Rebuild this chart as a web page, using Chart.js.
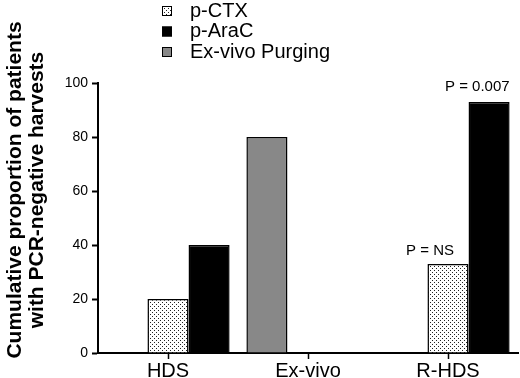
<!DOCTYPE html>
<html>
<head>
<meta charset="utf-8">
<script src="https://cdn.jsdelivr.net/npm/chart.js@4"></script>
<style>
  body { margin: 0; background: #fff; }
</style>
</head>
<body>
<canvas id="purgeChart" width="520" height="378"></canvas>
<script>
const categories = ['HDS', 'Ex-vivo', 'R-HDS'];
const seriesNames = ['p-CTX', 'p-AraC', 'Ex-vivo Purging'];
const pCtxValues = [20, null, 33];
const pAraCValues = [40, null, 93];
const exVivoValues = [null, 80, null];
const yTicks = [0, 20, 40, 60, 80, 100];
const pLabels = [
    { series: 'p-CTX', category: 'R-HDS', text: 'P = NS' },
    { series: 'p-AraC', category: 'R-HDS', text: 'P = 0.007' }
];

const FONT = '"Liberation Sans", Arial, Helvetica, sans-serif';

// stipple fill like the print version
function stipple() {
    const c = document.createElement('canvas');
    c.width = 4; c.height = 4;
    const g = c.getContext('2d');
    g.fillStyle = '#fff';
    g.fillRect(0, 0, 4, 4);
    g.fillStyle = '#222';
    g.fillRect(0, 0, 1, 1);
    g.fillRect(2, 2, 1, 1);
    return g.createPattern(c, 'repeat');
}
const dots = stipple();

const fills = { 'p-CTX': dots, 'p-AraC': '#000000', 'Ex-vivo Purging': '#888888' };

// ex-vivo first so it takes the left slot, like the original
const datasets = [
    { label: 'Ex-vivo Purging', data: exVivoValues },
    { label: 'p-CTX', data: pCtxValues },
    { label: 'p-AraC', data: pAraCValues }
].map(d => Object.assign(d, {
    backgroundColor: fills[d.label],
    borderColor: '#000',
    borderWidth: 1.5,
    barPercentage: 1,
    categoryPercentage: 0.88
}));

const extras = {
    id: 'extras',
    afterDraw(chart) {
        const ctx = chart.ctx;
        ctx.save();

        // legend
        ctx.font = '20px ' + FONT;
        ctx.textBaseline = 'middle';
        ctx.textAlign = 'left';
        seriesNames.forEach((name, i) => {
            const y = 11 + i * 20.5;
            ctx.fillStyle = fills[name];
            ctx.fillRect(162, y - 5, 10, 10);
            ctx.strokeStyle = '#000';
            ctx.lineWidth = 1;
            ctx.strokeRect(162.5, y - 4.5, 9, 9);
            ctx.fillStyle = '#000';
            ctx.fillText(name, 190, y);
        });

        // y axis title, two lines
        ctx.translate(0, 190);
        ctx.rotate(-Math.PI / 2);
        ctx.font = 'bold 21px ' + FONT;
        ctx.textAlign = 'center';
        ctx.fillText('Cumulative proportion of patients', 0, 15);
        ctx.fillText('with PCR-negative harvests', 0, 37);
        ctx.restore();

        // p-value notes over the R-HDS bars
        ctx.save();
        ctx.font = '15px ' + FONT;
        ctx.fillStyle = '#000';
        ctx.textBaseline = 'middle';
        pLabels.forEach(p => {
            const di = chart.data.datasets.findIndex(d => d.label === p.series);
            const bar = chart.getDatasetMeta(di).data[categories.indexOf(p.category)];
            if (p.text === 'P = NS') {
                ctx.textAlign = 'center';
                ctx.fillText(p.text, bar.x - 18, bar.y - 13);
            } else {
                ctx.textAlign = 'right';
                ctx.fillText(p.text, bar.x + bar.width / 2, bar.y - 15);
            }
        });
        ctx.restore();
    }
};

new Chart(document.getElementById('purgeChart'), {
    type: 'bar',
    data: { labels: categories, datasets: datasets },
    options: {
        responsive: false,
        animation: false,
        layout: { padding: { top: 83, right: 2, left: 0, bottom: 0 } },
        plugins: { legend: { display: false }, tooltip: { enabled: false } },
        scales: {
            x: {
                afterFit: s => { s.height = 25; },
                grid: { offset: false, drawOnChartArea: false, tickLength: 6, tickColor: '#000', tickWidth: 1.5 },
                border: { color: '#000', width: 2 },
                ticks: { color: '#000', padding: 0, font: { family: FONT, size: 20 } }
            },
            y: {
                min: 0,
                max: 100,
                afterFit: s => { s.width = 98; },
                afterBuildTicks: s => { s.ticks = yTicks.map(v => ({ value: v })); },
                grid: { drawOnChartArea: false, tickLength: 6, tickColor: '#000', tickWidth: 2 },
                border: { color: '#000', width: 2 },
                ticks: { color: '#000', padding: 4, font: { family: FONT, size: 14 } }
            }
        }
    },
    plugins: [extras]
});
</script>
</body>
</html>
